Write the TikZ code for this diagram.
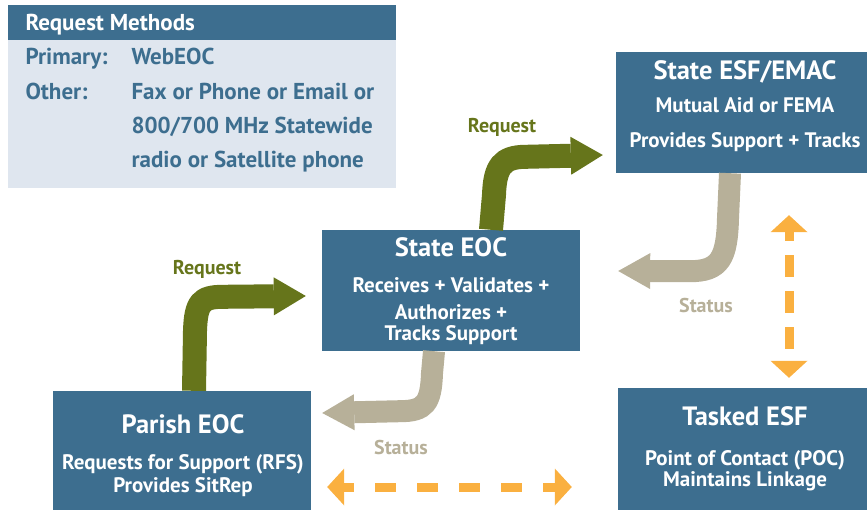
\documentclass[tikz,border=0pt]{standalone}
\usepackage{fontspec}
\setmainfont{PT Sans}
\usepackage{xcolor}
\usetikzlibrary{arrows.meta}
\usetikzlibrary{calc}
\usetikzlibrary{positioning}

\definecolor{eocblue}{RGB}{61,110,143}
\definecolor{panelgrey}{RGB}{223,230,239}
\definecolor{requestgreen}{RGB}{102,117,27}
\definecolor{statustan}{RGB}{183,176,153}
\definecolor{linkorange}{RGB}{250,176,64}

\begin{document}
\begin{tikzpicture}[x=1pt,y=-1pt,
    box/.style={fill=eocblue,inner sep=0pt},
    boxtitle/.style={anchor=base,text=white,font=\bfseries\fontsize{26.5}{26}\selectfont},
    boxtext/.style={anchor=base,text=white,font=\bfseries\fontsize{21}{24}\selectfont},
    methodtext/.style={anchor=base west,text=eocblue,font=\bfseries\fontsize{23}{26}\selectfont},
    flowlabel/.style={anchor=base,font=\bfseries\fontsize{20}{22}\selectfont},
    request/.style={requestgreen,line width=24pt,-{Triangle[length=32pt,width=38pt,line width=0pt]}},
    status/.style={statustan,line width=22pt,-{Triangle[length=32pt,width=36pt,line width=0pt]}},
    linkage/.style={linkorange,line width=9pt,{Triangle[length=17pt,width=37pt,line width=0pt]}-{Triangle[length=17pt,width=37pt,line width=0pt]}}]
              \useasboundingbox (0,0) rectangle (867,510);

              \node[fill=panelgrey,inner sep=0pt,minimum width=388pt,minimum height=183pt] (methods) at (202,96.5) {};
              \node[box,minimum width=388pt,minimum height=35pt] (methodshead) at (202,22.5) {};
              \node[methodtext,text=white] (methodstitle) at (22,31) {Request Methods};
              \node[methodtext] (primary) at (22,65) {Primary:};
              \node[methodtext] (webeoc) at (128,65) {WebEOC};
              \node[methodtext] (other) at (22,100) {Other:};
              \foreach \txt [count=\i] in {Fax or Phone or Email or,800/700 MHz Statewide,radio or Satellite phone}
                \node[methodtext] (other-\i) at (128,{66+34*\i}) {\txt};

              \node[box,minimum width=251pt,minimum height=121pt] (esf) at (741.5,112.5) {};
              \node[boxtitle] (esftitle) at (745,80) {State ESF/EMAC};
              \node[boxtext] (esfaid) at (745,113) {Mutual Aid or FEMA};
              \node[boxtext] (esftracks) at (745,148) {Provides Support + Tracks};

              \node[box,minimum width=258pt,minimum height=121pt] (eoc) at (451,290.5) {};
              \node[boxtitle] (eoctitle) at (451,257) {State EOC};
              \node[boxtext] (eocreceives) at (451,293) {Receives + Validates +};
              \node[boxtext] (eocauth) at (451,320) {Authorizes +};
              \node[boxtext] (eoctracks) at (451,341) {Tracks Support};

              \node[box,minimum width=258pt,minimum height=119pt] (parish) at (182,450.5) {};
              \node[boxtitle] (parishtitle) at (183,433) {Parish EOC};
              \node[boxtext] (parishrfs) at (183,469) {Requests for Support (RFS)};
              \node[boxtext] (parishsitrep) at (183,492) {Provides SitRep};

              \node[box,minimum width=249pt,minimum height=122pt] (tasked) at (742.5,449) {};
              \node[boxtitle] (taskedtitle) at (745,425) {Tasked ESF};
              \node[boxtext] (taskedpoc) at (745,465) {Point of Contact (POC)};
              \node[boxtext] (taskedlink) at (745,486) {Maintains Linkage};

              \draw[request] ($(parish.north)+(12,0)$) -- ++(1,-60)
                .. controls +(1,-28) and +(-22,0) .. ++(28,-34) -- ($(eoc.west)+(-16,5.5)$);
              \draw[request] ($(eoc.north)+(40,0)$) -- ++(3,-35)
                .. controls +(1,-28) and +(-24,0) .. ++(32,-38) -- ($(esf.west)+(-13,42.5)$);
              \node[flowlabel,text=requestgreen] (request-1) at (207,275) {Request};
              \node[flowlabel,text=requestgreen] (request-2) at (502,133) {Request};

              \draw[status] ($(eoc.south)+(-17,0)$) -- ++(-2,22)
                .. controls +(-1,30) and +(25,0) .. ++(-32,38) -- ($(parish.east)+(11,-37.5)$);
              \draw[status] ($(esf.south)+(-11.5,0)$) -- ++(-2,45)
                .. controls +(-1,40) and +(30,0) .. ++(-38,53) -- ($(eoc.east)+(38,-19.5)$);
              \node[flowlabel,text=statustan] (status-1) at (401,454) {Status};
              \node[flowlabel,text=statustan] (status-2) at (706,313) {Status};

              \draw[linkage,dash pattern=on 22pt off 14pt,dash phase=13pt]
                ($(esf.south)+(47.5,42)$) -- ($(tasked.north)+(46.5,-10)$);
              \draw[linkage,dash pattern=on 21pt off 21pt,dash phase=11pt]
                ($(parish.east)+(16,36.5)$) -- ($(tasked.west)+(-46,38)$);
            \end{tikzpicture}
\end{document}
